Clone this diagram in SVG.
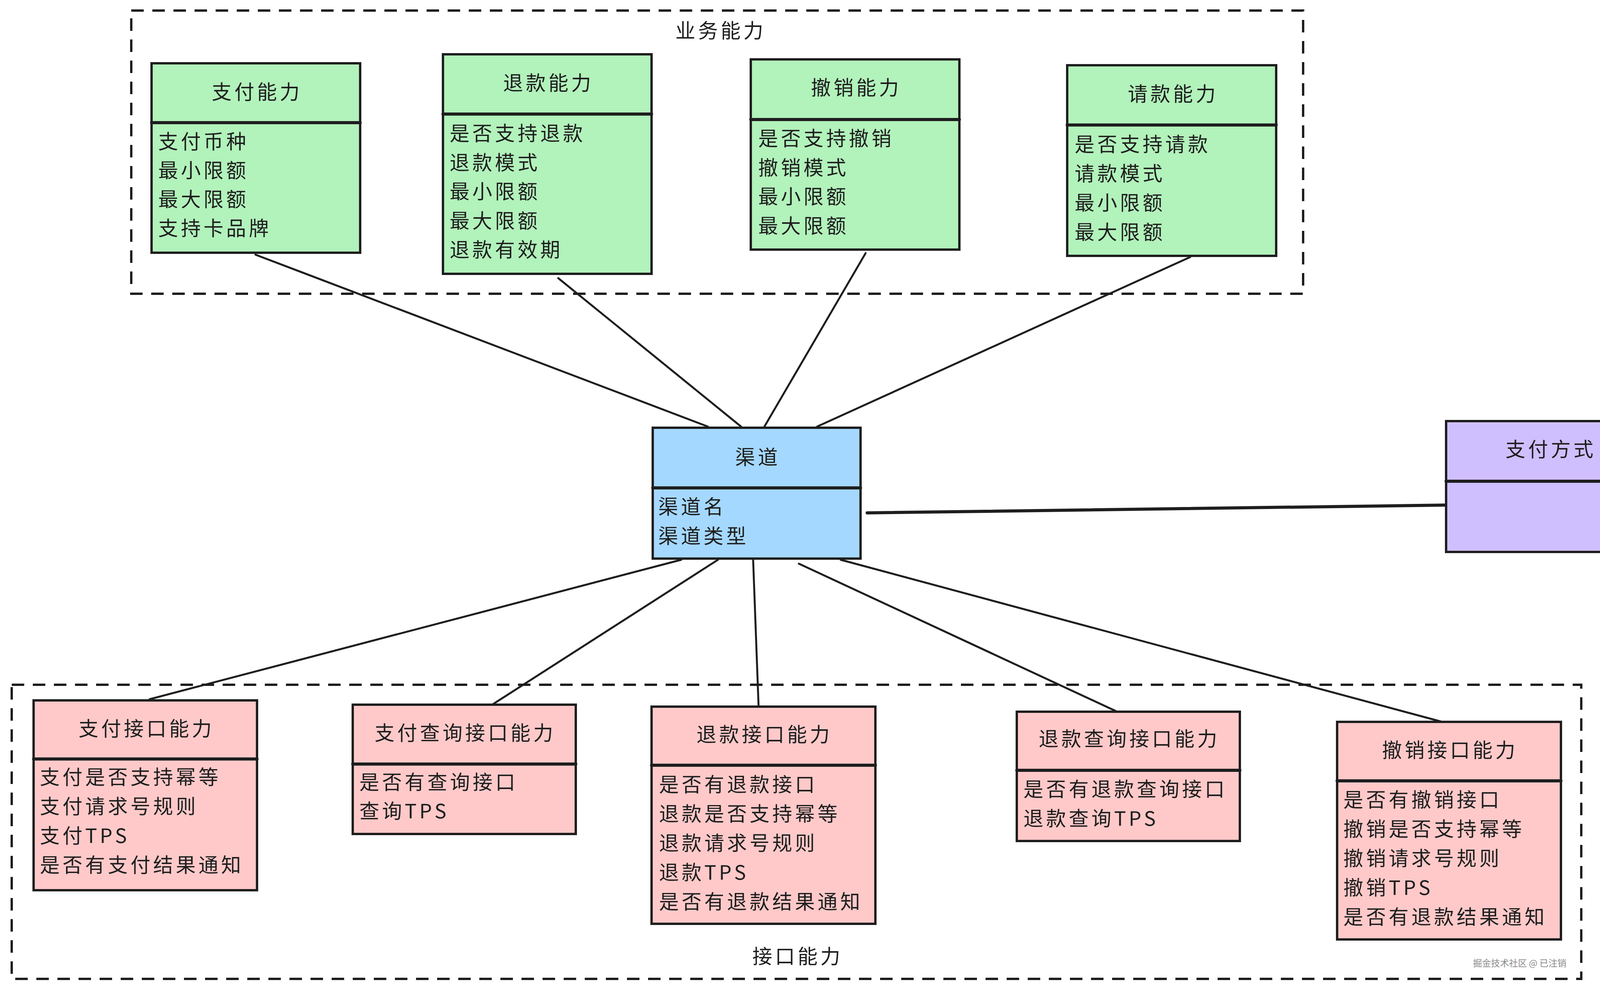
<svg xmlns="http://www.w3.org/2000/svg" width="4262" height="2537" viewBox="0 0 4262 2537">
<style>
.bg{fill:#ffffff}
.bx{stroke:#1e1e1e;stroke-width:6}
.dv{stroke:#1e1e1e;stroke-width:8;stroke-linecap:round}
.green{fill:#b2f2bb}
.blue{fill:#a5d8ff}
.purple{fill:#d0bfff}
.pink{fill:#ffc9c9}
.t{font-family:"Noto Sans CJK SC","Noto Sans CJK JP",sans-serif;font-size:51px;letter-spacing:7px;fill:#1e1e1e}
.c{text-anchor:middle}
.ln{stroke:#1e1e1e;stroke-width:5;stroke-linecap:round;fill:none}
.thick{stroke-width:8}
.dash{fill:none;stroke:#1e1e1e;stroke-width:6;stroke-dasharray:32 22}
.wm{font-family:"Noto Sans CJK SC",sans-serif;font-size:23px;fill:#8a8a8a;text-anchor:end}
</style>
<rect class="bg" x="0" y="0" width="4262" height="2537"/>

<g id="group-business">
<rect class="dash" x="336" y="27" width="3000" height="725"/>
<text class="t c" x="1845" y="97">业务能力</text>
</g>
<g id="group-interface">
<rect class="dash" x="30" y="1753" width="4018" height="753"/>
<text class="t c" x="2042" y="2467">接口能力</text>
</g>

<g id="connectors">
<line class="ln" x1="654" y1="652" x2="1812" y2="1092"/>
<line class="ln" x1="1429" y1="712" x2="1897" y2="1092"/>
<line class="ln" x1="2216" y1="648" x2="1957" y2="1092"/>
<line class="ln" x1="3047" y1="658" x2="2092" y2="1092"/>
<line class="ln" x1="1744" y1="1433" x2="383" y2="1790"/>
<line class="ln" x1="1838" y1="1433" x2="1260" y2="1804"/>
<line class="ln" x1="1928" y1="1433" x2="1942" y2="1809"/>
<line class="ln" x1="2045" y1="1443" x2="2860" y2="1822"/>
<line class="ln" x1="2152" y1="1433" x2="3692" y2="1848"/>
<line class="ln thick" x1="2220" y1="1313" x2="3702" y2="1293"/>
</g>

<g id="node-pay">
<rect class="bx green" x="388" y="162" width="534" height="485"/>
<line class="dv" x1="388" y1="314" x2="922" y2="314"/>
<text class="t c" x="658" y="254">支付能力</text>
<text class="t" x="405" y="381">支付币种</text>
<text class="t" x="405" y="455">最小限额</text>
<text class="t" x="405" y="529">最大限额</text>
<text class="t" x="405" y="603">支持卡品牌</text>
</g>

<g id="node-refund">
<rect class="bx green" x="1134" y="139" width="534" height="562"/>
<line class="dv" x1="1134" y1="292" x2="1668" y2="292"/>
<text class="t c" x="1404" y="231">退款能力</text>
<text class="t" x="1151" y="360">是否支持退款</text>
<text class="t" x="1151" y="434.5">退款模式</text>
<text class="t" x="1151" y="509">最小限额</text>
<text class="t" x="1151" y="583.5">最大限额</text>
<text class="t" x="1151" y="658">退款有效期</text>
</g>

<g id="node-cancel">
<rect class="bx green" x="1922" y="152" width="534" height="487"/>
<line class="dv" x1="1922" y1="306" x2="2456" y2="306"/>
<text class="t c" x="2192" y="243">撤销能力</text>
<text class="t" x="1941" y="373">是否支持撤销</text>
<text class="t" x="1941" y="447.5">撤销模式</text>
<text class="t" x="1941" y="522">最小限额</text>
<text class="t" x="1941" y="596.5">最大限额</text>
</g>

<g id="node-request">
<rect class="bx green" x="2732" y="167" width="535" height="488"/>
<line class="dv" x1="2732" y1="320" x2="3267" y2="320"/>
<text class="t c" x="3003" y="259">请款能力</text>
<text class="t" x="2751" y="388">是否支持请款</text>
<text class="t" x="2751" y="463">请款模式</text>
<text class="t" x="2751" y="538">最小限额</text>
<text class="t" x="2751" y="613">最大限额</text>
</g>

<g id="node-channel">
<rect class="bx blue" x="1671" y="1095" width="532" height="335"/>
<line class="dv" x1="1671" y1="1249" x2="2203" y2="1249"/>
<text class="t c" x="1940" y="1189">渠道</text>
<text class="t" x="1685" y="1316">渠道名</text>
<text class="t" x="1685" y="1391">渠道类型</text>
</g>

<g id="node-paymethod">
<rect class="bx purple" x="3702" y="1078" width="530" height="335"/>
<line class="dv" x1="3702" y1="1232" x2="4232" y2="1232"/>
<text class="t c" x="3970" y="1169">支付方式</text>
</g>

<g id="node-pay-api">
<rect class="bx pink" x="86" y="1793" width="572" height="486"/>
<line class="dv" x1="86" y1="1943" x2="658" y2="1943"/>
<text class="t c" x="375" y="1884">支付接口能力</text>
<text class="t" x="102" y="2008">支付是否支持幂等</text>
<text class="t" x="102" y="2083">支付请求号规则</text>
<text class="t" x="102" y="2158">支付TPS</text>
<text class="t" x="102" y="2233">是否有支付结果通知</text>
</g>

<g id="node-pay-query-api">
<rect class="bx pink" x="903" y="1804" width="571" height="331"/>
<line class="dv" x1="903" y1="1956" x2="1474" y2="1956"/>
<text class="t c" x="1191" y="1895">支付查询接口能力</text>
<text class="t" x="920" y="2021">是否有查询接口</text>
<text class="t" x="920" y="2095">查询TPS</text>
</g>

<g id="node-refund-api">
<rect class="bx pink" x="1668" y="1809" width="573" height="556"/>
<line class="dv" x1="1668" y1="1959" x2="2241" y2="1959"/>
<text class="t c" x="1957" y="1899">退款接口能力</text>
<text class="t" x="1687" y="2027">是否有退款接口</text>
<text class="t" x="1687" y="2102">退款是否支持幂等</text>
<text class="t" x="1687" y="2177">退款请求号规则</text>
<text class="t" x="1687" y="2252">退款TPS</text>
<text class="t" x="1687" y="2327">是否有退款结果通知</text>
</g>

<g id="node-refund-query-api">
<rect class="bx pink" x="2603" y="1822" width="571" height="331"/>
<line class="dv" x1="2603" y1="1972" x2="3174" y2="1972"/>
<text class="t c" x="2891" y="1910">退款查询接口能力</text>
<text class="t" x="2620" y="2039">是否有退款查询接口</text>
<text class="t" x="2620" y="2114">退款查询TPS</text>
</g>

<g id="node-cancel-api">
<rect class="bx pink" x="3423" y="1848" width="573" height="557"/>
<line class="dv" x1="3423" y1="1999" x2="3996" y2="1999"/>
<text class="t c" x="3712" y="1939">撤销接口能力</text>
<text class="t" x="3439" y="2066">是否有撤销接口</text>
<text class="t" x="3439" y="2141">撤销是否支持幂等</text>
<text class="t" x="3439" y="2216">撤销请求号规则</text>
<text class="t" x="3439" y="2291">撤销TPS</text>
<text class="t" x="3439" y="2366">是否有退款结果通知</text>
</g>

<text class="wm" x="4010" y="2474">掘金技术社区 @ 已注销</text>
</svg>
